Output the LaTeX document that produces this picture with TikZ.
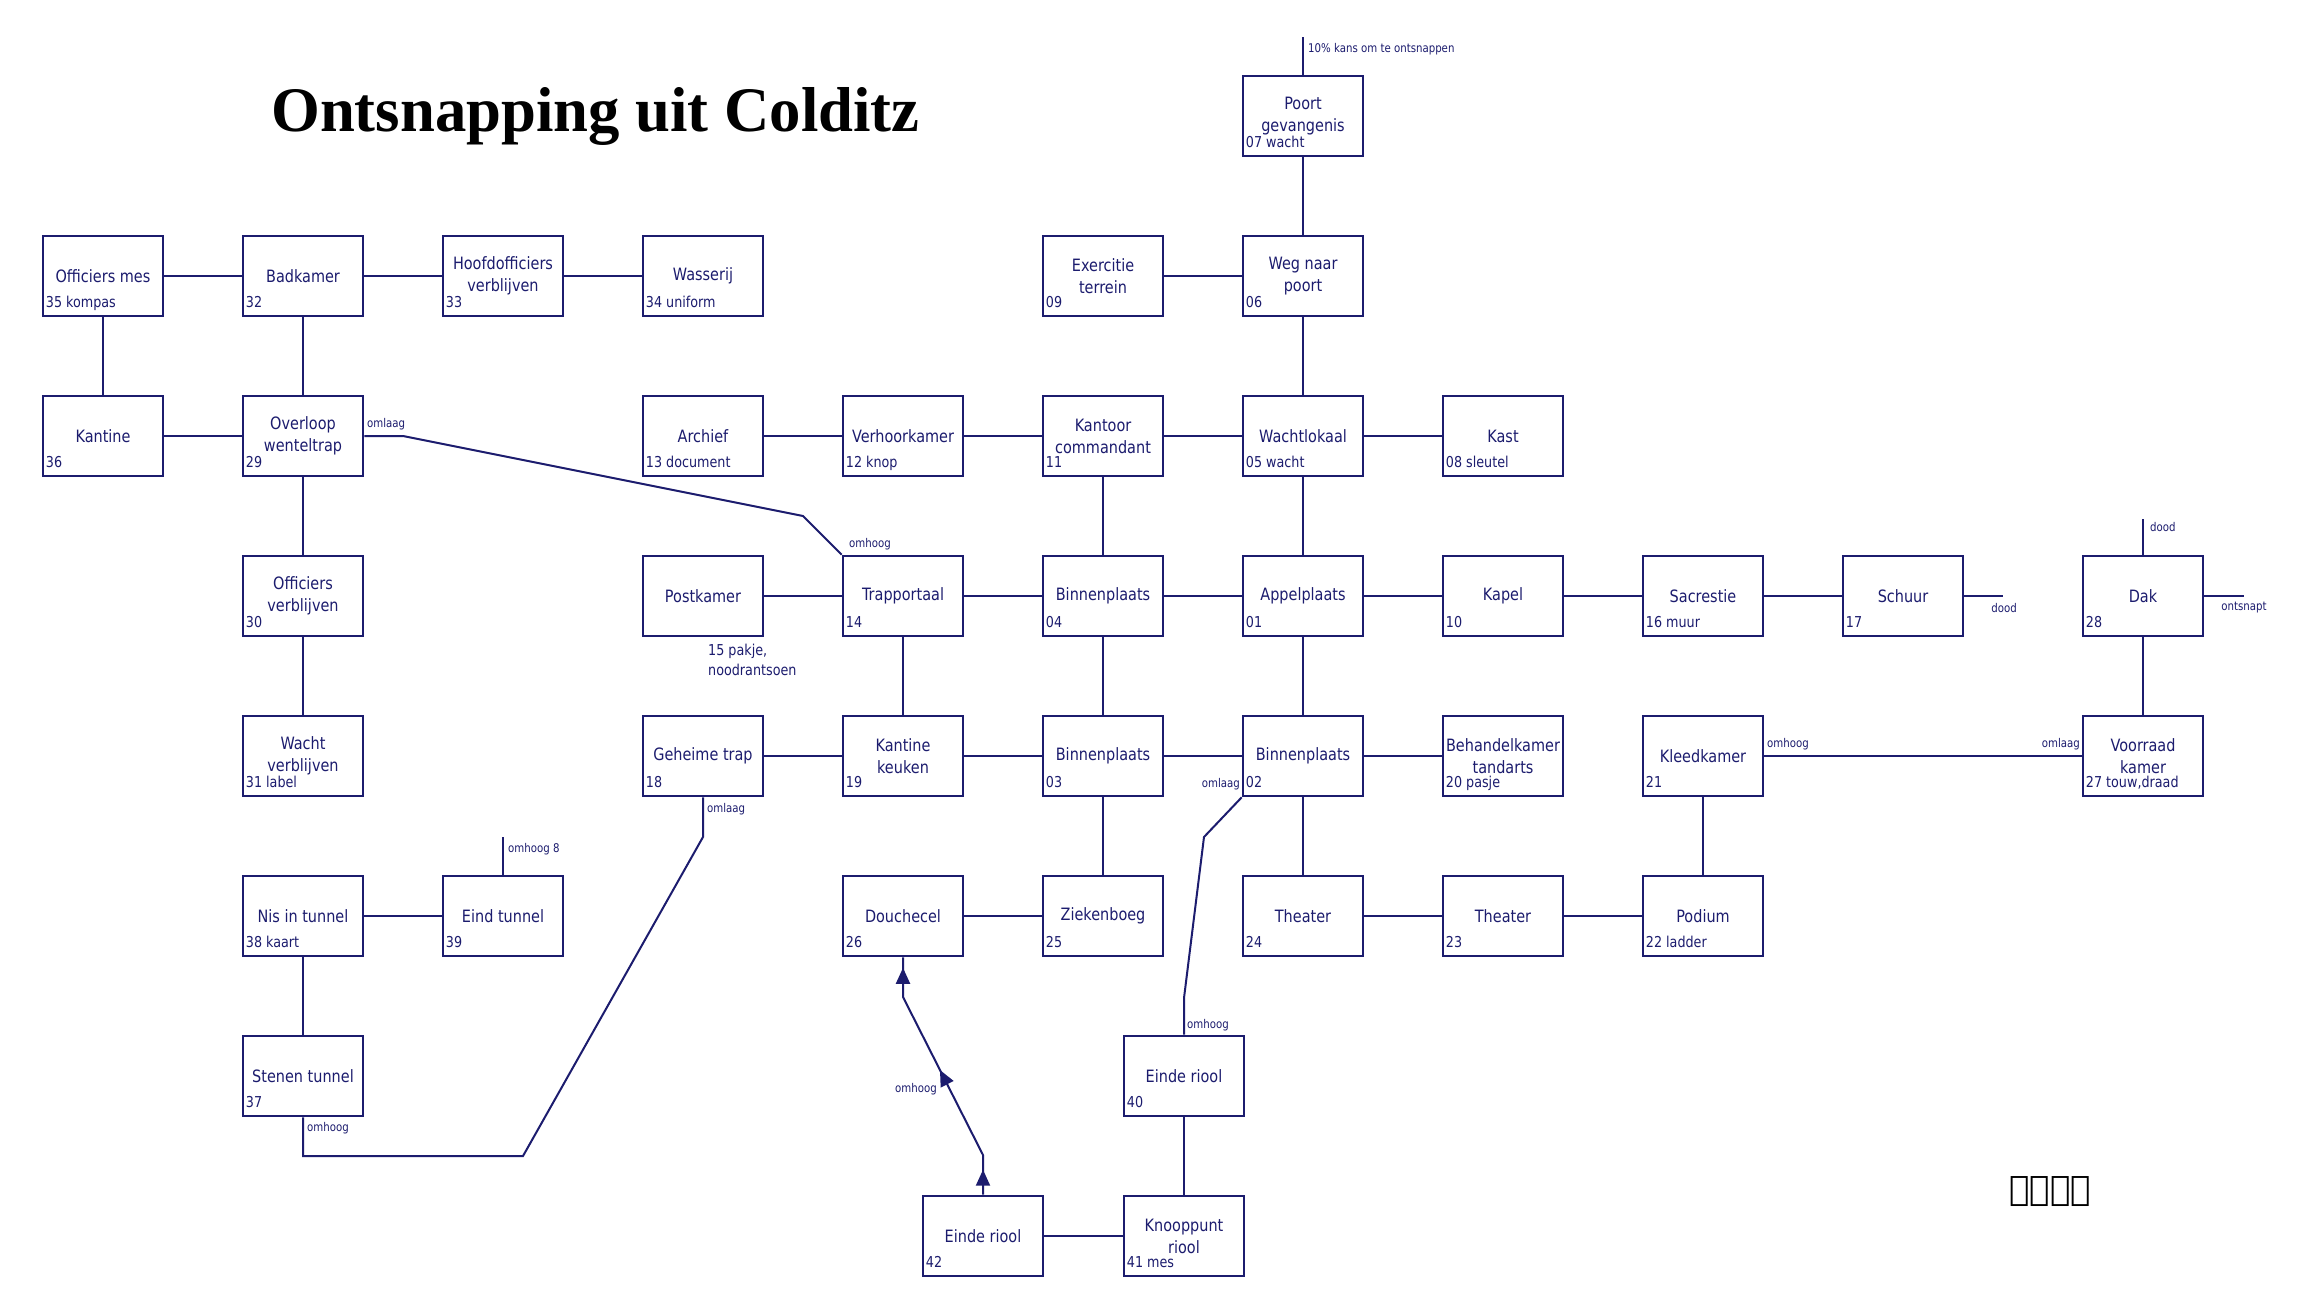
\documentclass[tikz,border=0pt]{standalone}
\usepackage{fontspec}
\usepackage{graphicx}
\setmainfont{DejaVu Sans}[FakeStretch=0.85]
\newfontfamily\titlefont{Liberation Serif}
\newfontfamily\runefont{DejaVu Sans}
\usetikzlibrary{calc,arrows.meta,decorations.markings}
\definecolor{navy}{RGB}{28,28,110}
\newcommand\mkroom[5]{\node[room] (#1) at (#2,#3) {#4};
  \node[num] (#1n) at ($(#1.south west)+(4,-10)$) {#5};}
\begin{document}
\begin{tikzpicture}[x=1pt,y=-1pt,
  room/.style={draw=navy, line width=2.6pt, minimum width=120pt, minimum height=80pt, inner sep=0pt, align=center, text=navy, font=\fontsize{17}{22}\selectfont},
  num/.style={anchor=base west, inner sep=0pt, text=navy, font=\fontsize{15}{18}\selectfont},
  lbl/.style={inner sep=0pt, text=navy, font=\fontsize{12}{14}\selectfont},
  link/.style={navy, line width=2pt}
]
\fill[white] (0,0) rectangle (2310,1299);
\useasboundingbox (0,0) rectangle (2310,1299);

% title
\node[anchor=base west, inner sep=0pt] (title) at (271,131) {\resizebox{648pt}{44pt}{\titlefont\bfseries Ontsnapping uit Colditz}};

% row 0
\mkroom{poort}{1303}{116}{Poort\\gevangenis}{07 wacht}
% row 1
\mkroom{ofm}{103}{276}{Officiers mes}{35 kompas}
\mkroom{bad}{303}{276}{Badkamer}{32}
\mkroom{hoof}{503}{276}{Hoofdofficiers\\verblijven}{33}
\mkroom{was}{703}{276}{Wasserij}{34 uniform}
\mkroom{exe}{1103}{276}{Exercitie\\terrein}{09}
\mkroom{weg}{1303}{276}{Weg naar\\poort}{06}
% row 2
\mkroom{kan}{103}{436}{Kantine}{36}
\mkroom{ovl}{303}{436}{Overloop\\wenteltrap}{29}
\mkroom{arc}{703}{436}{Archief}{13 document}
\mkroom{ver}{903}{436}{Verhoorkamer}{12 knop}
\mkroom{kc}{1103}{436}{Kantoor\\commandant}{11}
\mkroom{wl}{1303}{436}{Wachtlokaal}{05 wacht}
\mkroom{kast}{1503}{436}{Kast}{08 sleutel}
% row 3
\mkroom{ofv}{303}{596}{Officiers\\verblijven}{30}
\node[room] (post) at (703,596) {Postkamer};
\node[num] (postn1) at (708,655) {15 pakje,};
\node[num] (postn2) at (708,675) {noodrantsoen};
\mkroom{tp}{903}{596}{Trapportaal}{14}
\mkroom{b04}{1103}{596}{Binnenplaats}{04}
\mkroom{app}{1303}{596}{Appelplaats}{01}
\mkroom{kap}{1503}{596}{Kapel}{10}
\mkroom{sac}{1703}{596}{Sacrestie}{16 muur}
\mkroom{sch}{1903}{596}{Schuur}{17}
\mkroom{dak}{2143}{596}{Dak}{28}
% row 4
\mkroom{wv}{303}{756}{Wacht\\verblijven}{31 label}
\mkroom{gt}{703}{756}{Geheime trap}{18}
\mkroom{kk}{903}{756}{Kantine\\keuken}{19}
\mkroom{b03}{1103}{756}{Binnenplaats}{03}
\mkroom{b02}{1303}{756}{Binnenplaats}{02}
\mkroom{beh}{1503}{756}{Behandelkamer\\tandarts}{20 pasje}
\mkroom{kle}{1703}{756}{Kleedkamer}{21}
\mkroom{vk}{2143}{756}{Voorraad\\kamer}{27 touw,draad}
% row 5
\mkroom{nis}{303}{916}{Nis in tunnel}{38 kaart}
\mkroom{et}{503}{916}{Eind tunnel}{39}
\mkroom{dc}{903}{916}{Douchecel}{26}
\mkroom{zb}{1103}{916}{Ziekenboeg}{25}
\mkroom{th24}{1303}{916}{Theater}{24}
\mkroom{th23}{1503}{916}{Theater}{23}
\mkroom{pod}{1703}{916}{Podium}{22 ladder}
% row 6
\mkroom{st}{303}{1076}{Stenen tunnel}{37}
\mkroom{er40}{1184}{1076}{Einde riool}{40}
% row 7
\mkroom{er42}{983}{1236}{Einde riool}{42}
\mkroom{kr}{1184}{1236}{Knooppunt\\riool}{41 mes}

% horizontal links
\draw[link] (ofm.east) -- (bad.west);
\draw[link] (bad.east) -- (hoof.west);
\draw[link] (hoof.east) -- (was.west);
\draw[link] (exe.east) -- (weg.west);
\draw[link] (kan.east) -- (ovl.west);
\draw[link] (arc.east) -- (ver.west);
\draw[link] (ver.east) -- (kc.west);
\draw[link] (kc.east) -- (wl.west);
\draw[link] (wl.east) -- (kast.west);
\draw[link] (post.east) -- (tp.west);
\draw[link] (tp.east) -- (b04.west);
\draw[link] (b04.east) -- (app.west);
\draw[link] (app.east) -- (kap.west);
\draw[link] (kap.east) -- (sac.west);
\draw[link] (sac.east) -- (sch.west);
\draw[link] (gt.east) -- (kk.west);
\draw[link] (kk.east) -- (b03.west);
\draw[link] (b03.east) -- (b02.west);
\draw[link] (b02.east) -- (beh.west);
\draw[link] (kle.east) -- (vk.west);
\draw[link] (nis.east) -- (et.west);
\draw[link] (dc.east) -- (zb.west);
\draw[link] (th24.east) -- (th23.west);
\draw[link] (th23.east) -- (pod.west);
\draw[link] (er42.east) -- (kr.west);
% vertical links
\draw[link] (ofm.south) -- (kan.north);
\draw[link] (bad.south) -- (ovl.north);
\draw[link] (ovl.south) -- (ofv.north);
\draw[link] (ofv.south) -- (wv.north);
\draw[link] (weg.north) -- (poort.south);
\draw[link] (weg.south) -- (wl.north);
\draw[link] (kc.south) -- (b04.north);
\draw[link] (wl.south) -- (app.north);
\draw[link] (tp.south) -- (kk.north);
\draw[link] (b04.south) -- (b03.north);
\draw[link] (app.south) -- (b02.north);
\draw[link] (dak.south) -- (vk.north);
\draw[link] (b03.south) -- (zb.north);
\draw[link] (b02.south) -- (th24.north);
\draw[link] (kle.south) -- (pod.north);
\draw[link] (nis.south) -- (st.north);
\draw[link] (er40.south) -- (kr.north);

% stubs
\coordinate (poortend) at (1303,37);
\draw[link] (poort.north) -- (poortend);
\coordinate (schend) at (2003,596);
\draw[link] (sch.east) -- (schend);
\coordinate (dakup) at (2143,519);
\draw[link] (dak.north) -- (dakup);
\coordinate (dakright) at (2244,596);
\draw[link] (dak.east) -- (dakright);
\coordinate (etup) at (503,837);
\draw[link] (et.north) -- (etup);

% special paths
\coordinate (ov1) at (403,436);
\coordinate (ov2) at (803,516);
\draw[link] (ovl.east) -- (ov1) -- (ov2) -- (tp.north west);
\coordinate (gt1) at (703,837);
\coordinate (gt2) at (523,1156);
\coordinate (gt3) at (303,1156);
\draw[link] (gt.south) -- (gt1) -- (gt2) -- (gt3) -- (st.south);
\coordinate (bp1) at (1204,837);
\coordinate (bp2) at (1184,998);
\draw[link] (b02.south west) -- (bp1) -- (bp2) -- (er40.north);
\coordinate (a1) at (983,1155);
\coordinate (a2) at (903,997);
\draw[link, postaction={decorate}, decoration={markings,
   mark=at position 25pt with {\arrow{Triangle[length=16pt,width=14pt]}},
   mark=at position 135pt with {\arrow{Triangle[length=16pt,width=14pt]}},
   mark=at position 246pt with {\arrow{Triangle[length=16pt,width=14pt]}}}]
   (er42.north) -- (a1) -- (a2) -- (dc.south);

% labels
\node[lbl, anchor=west] (l1) at (1308,49) {10\% kans om te ontsnappen};
\node[lbl, anchor=west] (l2) at (367,424) {omlaag};
\node[lbl, anchor=west] (l3) at (849,544) {omhoog};
\node[lbl] (l4) at (2004,608) {dood};
\node[lbl, anchor=west] (l5) at (2150,527) {dood};
\node[lbl] (l6) at (2244,608) {ontsnapt};
\node[lbl, anchor=west] (l7) at (1767,744) {omhoog};
\node[lbl, anchor=east] (l8) at (2080,744) {omlaag};
\node[lbl, anchor=west] (l9) at (707,809) {omlaag};
\node[lbl, anchor=west] (l10) at (307,1128) {omhoog};
\node[lbl, anchor=west] (l11) at (508,849) {omhoog 8};
\node[lbl, anchor=east] (l12) at (1240,784) {omlaag};
\node[lbl, anchor=west] (l13) at (1187,1025) {omhoog};
\node[lbl, anchor=east] (l14) at (937,1089) {omhoog};

% runes (no installed family has Runic glyphs; text kept as is)
\node[inner sep=0pt] (runes) at (2050,1191) {\runefont\fontsize{34}{34}\selectfont ᚨᛚᛗᛉ};
\end{tikzpicture}
\end{document}
